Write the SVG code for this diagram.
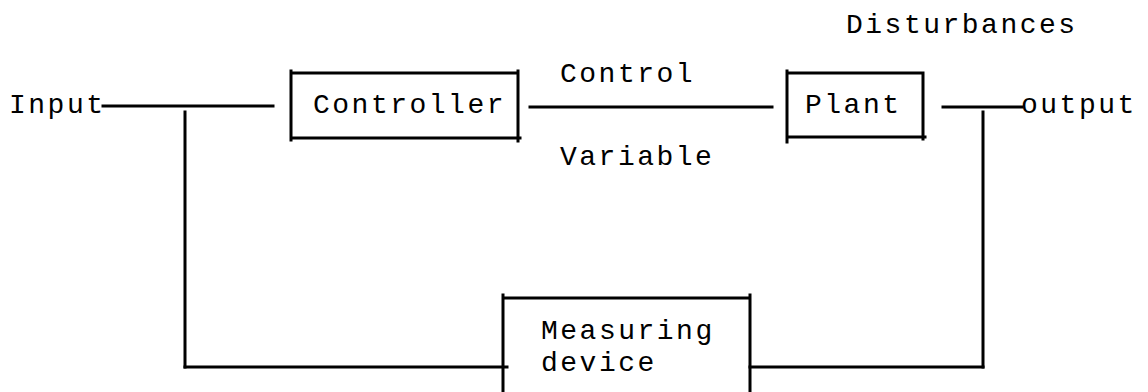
<svg xmlns="http://www.w3.org/2000/svg" width="1148" height="392" viewBox="0 0 1148 392">
<style>
  .ln { stroke: #000; stroke-width: 3; fill: none; stroke-linecap: square; }
  .tx { font-family: "Liberation Mono", "DejaVu Sans Mono", monospace; font-size: 28px; letter-spacing: 2.5px; fill: #000; }
</style>
<rect width="1148" height="392" fill="#fff"/>
<g id="connectors">
  <path class="ln" d="M103,106 H273"/>
  <path class="ln" d="M185,112 V367"/>
  <path class="ln" d="M185,367 H507"/>
  <path class="ln" d="M530,107 H772"/>
  <path class="ln" d="M943,107 H1022"/>
  <path class="ln" d="M983,112 V367"/>
  <path class="ln" d="M750,367 H983"/>
</g>
<g id="input">
  <text class="tx" x="9" y="113">Input</text>
</g>
<g id="controller">
  <path class="ln" d="M291,71 V140 M291,73 H518 M291,138 H520 M518,71 V141"/>
  <text class="tx" x="313" y="113">Controller</text>
</g>
<g id="control-variable">
  <text class="tx" x="560" y="82">Control</text>
  <text class="tx" x="560" y="165">Variable</text>
</g>
<g id="plant">
  <path class="ln" d="M787,71 V142 M787,73 H923 M787,137 H925 M923,73 V139"/>
  <text class="tx" x="805" y="113">Plant</text>
</g>
<g id="output">
  <text class="tx" x="1021" y="113">output</text>
</g>
<g id="disturbances">
  <text class="tx" x="846" y="33">Disturbances</text>
</g>
<g id="measuring-device">
  <path class="ln" d="M503,295 V394 M503,298 H750 M750,295 V394"/>
  <text class="tx" x="541" y="339">Measuring</text>
  <text class="tx" x="541" y="371">device</text>
</g>
</svg>
